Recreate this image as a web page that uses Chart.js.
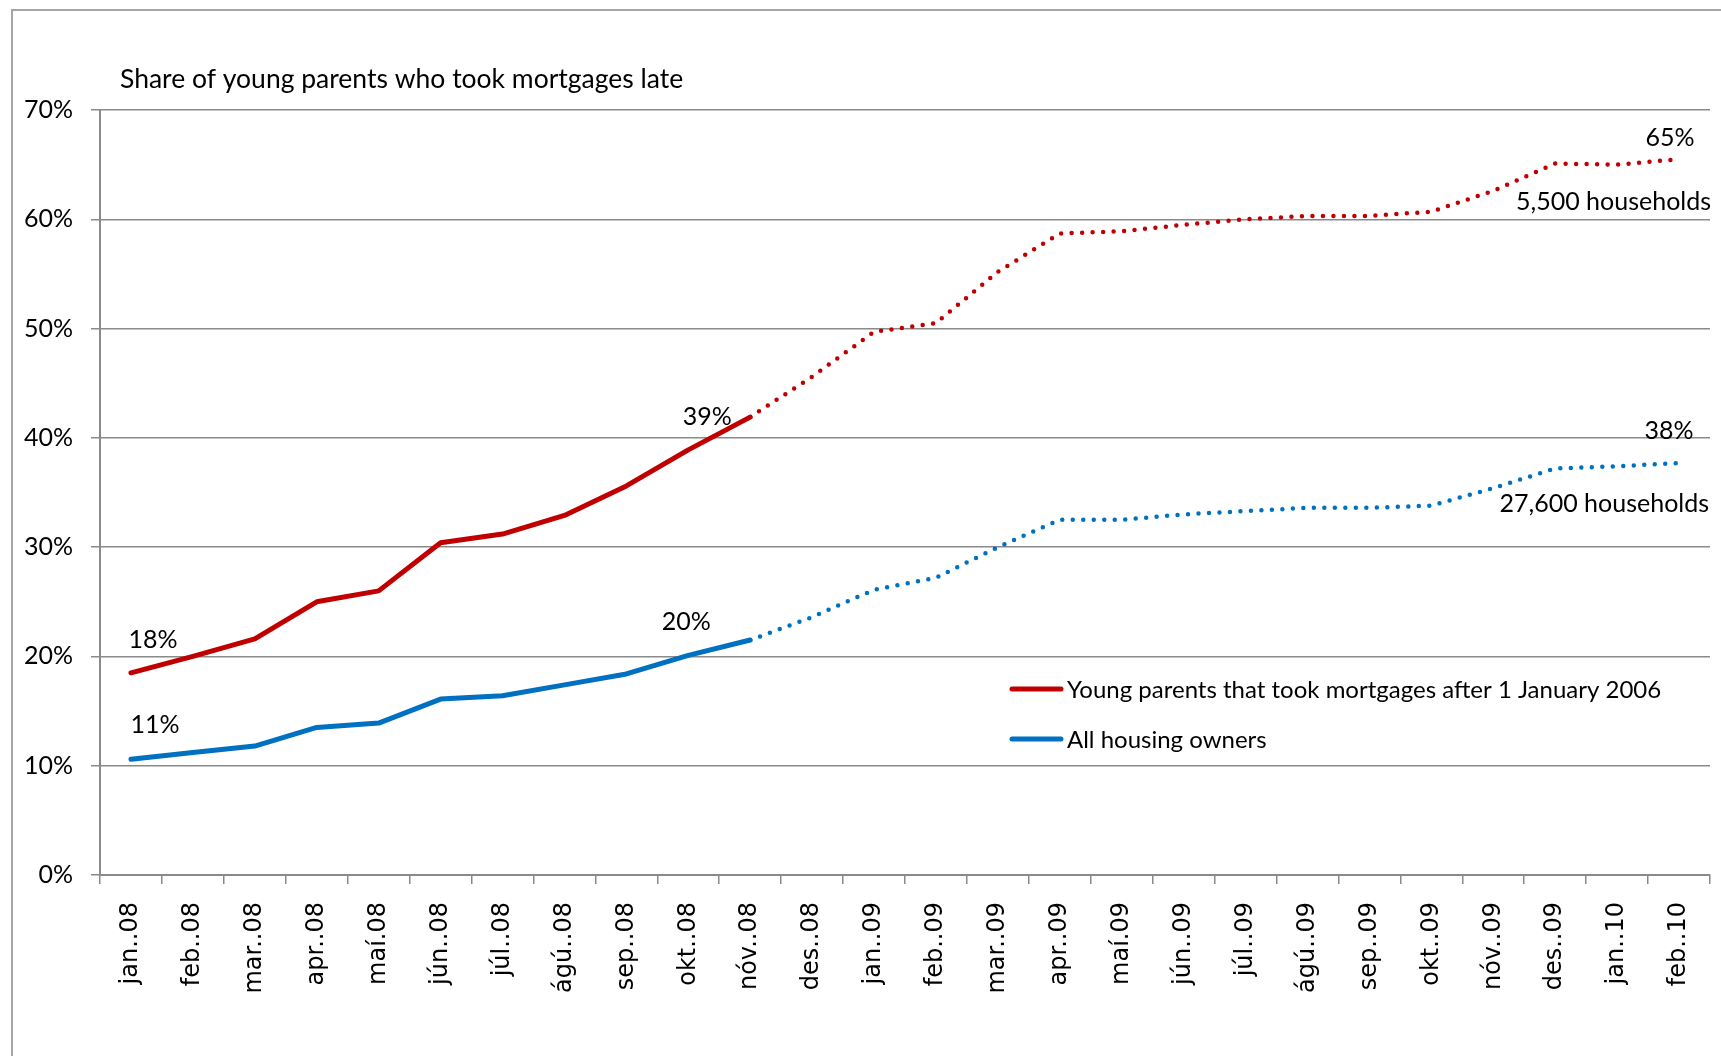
<!DOCTYPE html>
<html>
<head>
<meta charset="utf-8">
<script src="https://cdn.jsdelivr.net/npm/chart.js@4/dist/chart.umd.min.js"></script>
<style>
  html, body { margin: 0; padding: 0; background: #fff; }
  #wrap { position: relative; width: 1721px; height: 1056px; overflow: hidden; }
  #frame { position: absolute; left: 11px; top: 9px; right: -10px; bottom: -10px;
           border-top: 2px solid #a6a6a6; border-left: 2px solid #a6a6a6; }
  #chart { position: absolute; left: 0; top: 0; }
</style>
</head>
<body>
<div id="wrap">
  <div id="frame"></div>
  <canvas id="chart" width="1721" height="1056"></canvas>
</div>
<script>
// months on the x axis
const months = ['jan..08', 'feb..08', 'mar..08', 'apr..08', 'maí.08', 'jún..08', 'júl..08', 'ágú..08',
  'sep..08', 'okt..08', 'nóv..08', 'des..08', 'jan..09', 'feb..09', 'mar..09', 'apr..09', 'maí.09',
  'jún..09', 'júl..09', 'ágú..09', 'sep..09', 'okt..09', 'nóv..09', 'des..09', 'jan..10', 'feb..10'];

// share late (%)
const youngParents = [18.5, 20.0, 21.6, 25.0, 26.0, 30.4, 31.2, 32.9, 35.6, 38.9, 41.9, 45.6, 49.7,
  50.5, 55.2, 58.7, 58.9, 59.5, 60.0, 60.3, 60.3, 60.7, 62.6, 65.1, 65.0, 65.5];
const allOwners = [10.6, 11.2, 11.8, 13.5, 13.9, 16.1, 16.4, 17.4, 18.4, 20.1, 21.5, 23.6, 26.1,
  27.2, 30.0, 32.5, 32.5, 33.0, 33.3, 33.6, 33.6, 33.8, 35.4, 37.2, 37.4, 37.7];

// the lines are solid up to this month, dotted after it
const lastActual = 10;

const seriesNames = ['Young parents that took mortgages after 1 January 2006', 'All housing owners'];
const seriesColors = ['#c00000', '#0070c0'];
const yTicks = [0, 10, 20, 30, 40, 50, 60, 70];
const subtitle = 'Share of young parents who took mortgages late';

// text labels next to points: series, point index, text
const pointLabels = [
  { series: 0, index: 0, text: '18%', dx: 22, dy: -25, align: 'center' },
  { series: 1, index: 0, text: '11%', dx: 24, dy: -26, align: 'center' },
  { series: 0, index: 9, text: '39%', dx: 19, dy: -25, align: 'center' },
  { series: 1, index: 9, text: '20%', dx: -2, dy: -25, align: 'center' },
  { series: 0, index: 25, text: '65%', dx: -9, dy: -13, align: 'center' },
  { series: 1, index: 25, text: '38%', dx: -10, dy: -24, align: 'center' },
  { series: 0, index: 25, text: '5,500 households', dx: 32, dy: 51, align: 'right' },
  { series: 1, index: 25, text: '27,600 households', dx: 30, dy: 49, align: 'right' }
];

const calibriLike = 'Lato, "Open Sans", sans-serif';

const dotted = ctx => ctx.p0DataIndex >= lastActual;

function makeDataset(name, values, color) {
  return {
    label: name,
    data: values,
    borderColor: color,
    borderWidth: 5,
    borderCapStyle: 'round',
    borderJoinStyle: 'round',
    pointRadius: 0,
    tension: 0,
    fill: false,
    segment: {
      borderDash: ctx => dotted(ctx) ? [0, 10.5] : [],
      borderWidth: ctx => dotted(ctx) ? 4.5 : 5
    }
  };
}

// subtitle, point labels and the legend
const textPlugin = {
  id: 'texts',
  afterDatasetsDraw(chart) {
    const ctx = chart.ctx;
    ctx.save();
    ctx.fillStyle = '#000';
    ctx.textBaseline = 'alphabetic';

    ctx.font = '26.5px ' + calibriLike;
    ctx.textAlign = 'left';
    ctx.fillText(subtitle, 120, 88);

    ctx.font = '25px ' + calibriLike;
    pointLabels.forEach(l => {
      const pt = chart.getDatasetMeta(l.series).data[l.index];
      ctx.textAlign = l.align;
      ctx.fillText(l.text, pt.x + l.dx, pt.y + l.dy);
    });

    // legend
    const legendX = 1012, legendY = 689, rowGap = 50;
    ctx.font = '24px ' + calibriLike;
    chart.data.datasets.forEach((ds, i) => {
      const y = legendY + i * rowGap;
      ctx.beginPath();
      ctx.strokeStyle = ds.borderColor;
      ctx.lineWidth = 5;
      ctx.lineCap = 'round';
      ctx.moveTo(legendX, y);
      ctx.lineTo(legendX + 49, y);
      ctx.stroke();
      ctx.textAlign = 'left';
      ctx.fillText(ds.label, legendX + 55, y + 9);
    });
    ctx.restore();
  }
};

new Chart(document.getElementById('chart'), {
  type: 'line',
  data: {
    labels: months,
    datasets: [
      makeDataset(seriesNames[0], youngParents, seriesColors[0]),
      makeDataset(seriesNames[1], allOwners, seriesColors[1])
    ]
  },
  options: {
    responsive: false,
    animation: false,
    layout: { padding: { left: 0, right: 11, top: 110, bottom: 0 } },
    plugins: {
      legend: { display: false },
      tooltip: { enabled: false }
    },
    scales: {
      x: {
        offset: true,
        afterFit: s => {
          s.height = 181;
          s.paddingLeft = 0;
          s.paddingRight = 0;
        },
        grid: {
          offset: true,
          drawOnChartArea: false,
          drawTicks: true,
          tickLength: 9,
          color: '#8a8a8a',
          lineWidth: 1.5
        },
        border: { color: '#8a8a8a', width: 2 },
        ticks: {
          minRotation: 90,
          maxRotation: 90,
          autoSkip: false,
          padding: 18,
          color: '#000',
          font: { family: '"DejaVu Sans", Verdana, sans-serif', size: 24 }
        }
      },
      y: {
        min: 0,
        max: 70,
        afterFit: s => { s.width = 100; },
        afterBuildTicks: s => { s.ticks = yTicks.map(v => ({ value: v })); },
        grid: {
          color: '#8a8a8a',
          lineWidth: 1.5,
          tickLength: 9
        },
        border: { color: '#8a8a8a', width: 2 },
        ticks: {
          padding: 18,
          color: '#000',
          font: { family: calibriLike, size: 25 },
          callback: v => v + '%'
        }
      }
    }
  },
  plugins: [textPlugin]
});
</script>
</body>
</html>
